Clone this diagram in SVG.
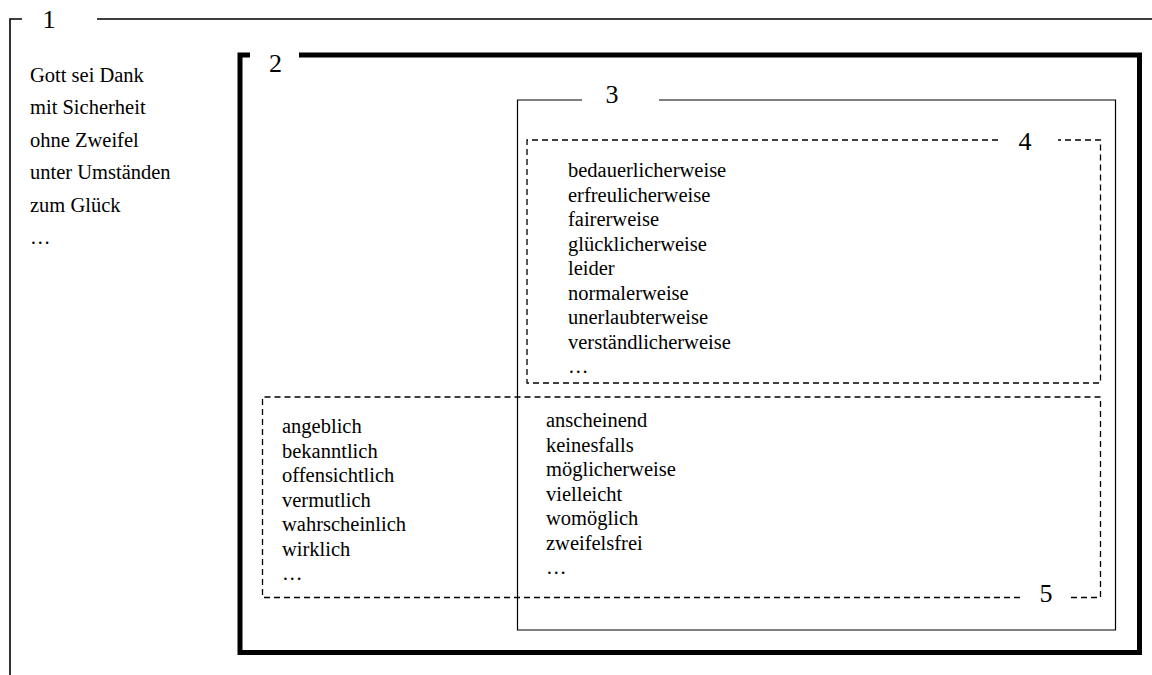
<svg xmlns="http://www.w3.org/2000/svg" width="1152" height="675" viewBox="0 0 1152 675">
<style>
.frame{fill:none;stroke:#000;}
.b1{stroke-width:1.6;}
.b2{stroke-width:5;stroke-linejoin:miter;}
.b3{stroke-width:1.2;}
.dash{stroke-width:1.3;stroke-dasharray:6,4;}
.t{font-family:"Liberation Serif","Times New Roman",serif;font-size:20.5px;fill:#000;}
.lbl{font-family:"Liberation Serif","Times New Roman",serif;font-size:26px;fill:#000;text-anchor:middle;}
</style>
<rect width="1152" height="675" fill="#fff"/>
<g id="box1">
<path class="frame b1" d="M22,19 H10 V680 M97,19 H1160"/>
<text class="lbl" x="49" y="28">1</text>
<text class="t" x="30" y="82">Gott sei Dank</text>
<text class="t" x="30" y="114.4">mit Sicherheit</text>
<text class="t" x="30" y="146.8">ohne Zweifel</text>
<text class="t" x="30" y="179.2">unter Umständen</text>
<text class="t" x="30" y="211.6">zum Glück</text>
<text class="t" x="30" y="244">…</text>
</g>
<g id="box2">
<path class="frame b2" d="M250,55 H240 V652.5 H1139.5 V55 H299"/>
<text class="lbl" x="275.5" y="72">2</text>
</g>
<g id="box3">
<path class="frame b3" d="M582,100 H517.5 V630 H1115.5 V100 H659"/>
<text class="lbl" x="612" y="103">3</text>
</g>
<g id="box4">
<path class="frame dash" d="M998,140 H527 V383 H1100.5 V140 H1058"/>
<text class="lbl" x="1025" y="150">4</text>
<text class="t" x="568" y="177">bedauerlicherweise</text>
<text class="t" x="568" y="201.5">erfreulicherweise</text>
<text class="t" x="568" y="226">fairerweise</text>
<text class="t" x="568" y="250.5">glücklicherweise</text>
<text class="t" x="568" y="275">leider</text>
<text class="t" x="568" y="299.5">normalerweise</text>
<text class="t" x="568" y="324">unerlaubterweise</text>
<text class="t" x="568" y="348.5">verständlicherweise</text>
<text class="t" x="568" y="373">…</text>
</g>
<g id="box5">
<path class="frame dash" d="M1020,597.5 H262.5 V397 H1100.5 V597.5 H1070"/>
<text class="lbl" x="1046" y="602">5</text>
<text class="t" x="282" y="433">angeblich</text>
<text class="t" x="282" y="457.5">bekanntlich</text>
<text class="t" x="282" y="482">offensichtlich</text>
<text class="t" x="282" y="506.5">vermutlich</text>
<text class="t" x="282" y="531">wahrscheinlich</text>
<text class="t" x="282" y="555.5">wirklich</text>
<text class="t" x="282" y="580">…</text>
<text class="t" x="546" y="427">anscheinend</text>
<text class="t" x="546" y="451.5">keinesfalls</text>
<text class="t" x="546" y="476">möglicherweise</text>
<text class="t" x="546" y="500.5">vielleicht</text>
<text class="t" x="546" y="525">womöglich</text>
<text class="t" x="546" y="549.5">zweifelsfrei</text>
<text class="t" x="546" y="574">…</text>
</g>
<g id="connectors"></g>
</svg>
